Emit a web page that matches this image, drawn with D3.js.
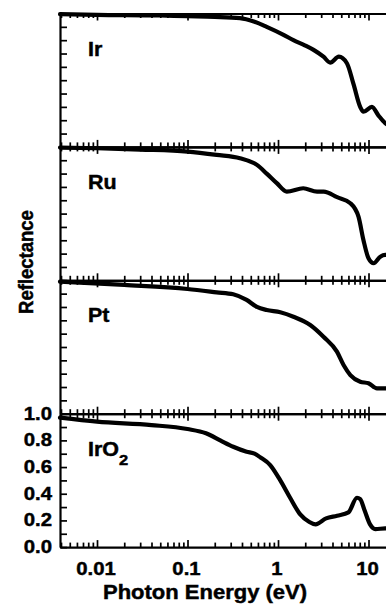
<!DOCTYPE html>
<html>
<head>
<meta charset="utf-8">
<script src="https://cdn.jsdelivr.net/npm/d3@7/dist/d3.min.js"></script>
<style>
  html, body { margin: 0; padding: 0; background: #fff; overflow: hidden; }
  svg { display: block; font-family: "Liberation Sans", Arial, Helvetica, sans-serif; font-weight: bold; }
  svg text { stroke: #000; stroke-width: 0.45px; }
</style>
</head>
<body>
<svg id="chart" width="386" height="604"></svg>
<script>
// Photon energy ticks (eV) and labels
const energyTicks = [0.01, 0.1, 1, 10];
const energyTickLabels = ["0.01", "0.1", "1", "10"];

// Reflectance ticks on the labelled (bottom) panel
const reflectanceTicks = [0, 0.2, 0.4, 0.6, 0.8, 1.0];
const reflectanceTickLabels = ["0.0", "0.2", "0.4", "0.6", "0.8", "1.0"];
const reflectanceMinorTicks = [0, 0.1, 0.2, 0.3, 0.4, 0.5, 0.6, 0.7, 0.8, 0.9, 1.0];

// Panels, top to bottom
const materials = ["Ir", "Ru", "Pt", "IrO2"];

// Reflectance spectra: [photon energy (eV), reflectance]
const irSpectrum = [
  [0.0039, 0.995], [0.01, 0.99], [0.05, 0.985], [0.1, 0.98], [0.2, 0.975],
  [0.38, 0.965], [0.54, 0.94], [0.75, 0.90], [1.15, 0.84], [1.48, 0.80],
  [2.0, 0.76], [2.47, 0.727], [3.18, 0.676], [3.77, 0.632], [4.7, 0.676],
  [5.77, 0.627], [6.83, 0.47], [8.09, 0.30], [8.8, 0.264], [10.9, 0.30],
  [12.9, 0.235], [15.3, 0.178], [18, 0.15]
];
const ruSpectrum = [
  [0.0039, 0.995], [0.01, 0.99], [0.03, 0.98], [0.1, 0.965], [0.21, 0.94],
  [0.38, 0.915], [0.585, 0.865], [0.75, 0.80], [0.97, 0.728], [1.25, 0.665],
  [1.9, 0.69], [2.7, 0.665], [3.2, 0.665], [4.5, 0.623], [6.3, 0.578],
  [7.75, 0.477], [8.8, 0.30], [10, 0.165], [11.4, 0.128], [13.5, 0.177],
  [15.3, 0.19], [18, 0.19]
];
const ptSpectrum = [
  [0.0039, 0.99], [0.02, 0.965], [0.1, 0.935], [0.21, 0.91], [0.32, 0.895],
  [0.45, 0.853], [0.585, 0.80], [0.75, 0.777], [1.06, 0.76], [1.48, 0.727],
  [2.27, 0.665], [3.18, 0.577], [4.48, 0.465], [5.3, 0.365], [6.3, 0.29],
  [8.1, 0.24], [10, 0.228], [12.4, 0.19], [15.3, 0.19], [18, 0.19]
];
const iro2Spectrum = [
  [0.0039, 0.97], [0.01, 0.94], [0.04, 0.915], [0.1, 0.885], [0.16, 0.853],
  [0.23, 0.80], [0.32, 0.752], [0.45, 0.715], [0.55, 0.70], [0.64, 0.672],
  [0.82, 0.615], [1.06, 0.50], [1.36, 0.37], [1.76, 0.245], [2.2, 0.19],
  [2.6, 0.17], [3.4, 0.215], [4.5, 0.235], [6.0, 0.26], [7.45, 0.37],
  [8.1, 0.36], [9.0, 0.28], [10.4, 0.17], [11.9, 0.135], [15.3, 0.14], [18, 0.14]
];
const spectra = [irSpectrum, ruSpectrum, ptSpectrum, iro2Spectrum];

// Layout
const plotLeft = 60;
const plotTop = 13.5;
const panelHeight = 133.4;
const decadeWidth = 90.5;
const energyDomain = [0.0039, 30];
const stretch = 1.1; // lettering is drawn slightly wide

const svg = d3.select("#chart");

const x = d3.scaleLog()
  .domain(energyDomain)
  .range([plotLeft, plotLeft + decadeWidth * Math.log10(energyDomain[1] / energyDomain[0])]);

// Minor ticks: 2..9 within every decade inside the domain
const minorEnergyTicks = [];
for (let p = -3; p <= 1; p++) {
  for (let m = 2; m <= 9; m++) {
    const v = m * Math.pow(10, p);
    if (v > energyDomain[0] && v < energyDomain[1]) minorEnergyTicks.push(v);
  }
}

function styleAxis(g, width) {
  g.select(".domain").attr("stroke", "#000").attr("stroke-width", width);
  g.selectAll(".tick line").attr("stroke", "#000").attr("stroke-width", 1.7);
  g.selectAll(".tick text").remove();
}

function boldText(parent, txt, px, py, size, anchor) {
  return parent.append("text")
    .attr("transform", `translate(${px},${py}) scale(${stretch},1)`)
    .attr("text-anchor", anchor || "start")
    .attr("font-size", size)
    .attr("fill", "#000")
    .text(txt);
}

materials.forEach((name, i) => {
  const top = plotTop + i * panelHeight;
  const bottom = top + panelHeight;
  const y = d3.scaleLinear().domain([0, 1]).range([bottom, top]);
  const g = svg.append("g").attr("class", "panel-" + i);

  // Bottom axis: ticks point up into the panel
  const gb = g.append("g").attr("transform", `translate(0,${bottom})`);
  gb.call(d3.axisBottom(x).tickValues(energyTicks).tickSizeInner(-7).tickSizeOuter(0));
  styleAxis(gb, 2.2);
  const gbm = g.append("g").attr("transform", `translate(0,${bottom})`);
  gbm.call(d3.axisBottom(x).tickValues(minorEnergyTicks).tickSizeInner(-4.5).tickSizeOuter(0));
  styleAxis(gbm, 0);

  // Top axis: ticks point down into the panel
  const gt = g.append("g").attr("transform", `translate(0,${top})`);
  gt.call(d3.axisTop(x).tickValues(energyTicks).tickSizeInner(-7).tickSizeOuter(0));
  styleAxis(gt, 2.2);
  const gtm = g.append("g").attr("transform", `translate(0,${top})`);
  gtm.call(d3.axisTop(x).tickValues(minorEnergyTicks).tickSizeInner(-4.5).tickSizeOuter(0));
  styleAxis(gtm, 0);

  // Left axis: ticks point right into the panel
  const gl = g.append("g").attr("transform", `translate(${plotLeft},0)`);
  gl.call(d3.axisLeft(y).tickValues(reflectanceMinorTicks).tickSizeInner(-7).tickSizeOuter(0));
  styleAxis(gl, 2.2);

  // Spectrum
  const line = d3.line()
    .x(d => x(d[0]))
    .y(d => y(d[1]))
    .curve(d3.curveMonotoneX);
  g.append("path")
    .datum(spectra[i])
    .attr("d", line)
    .attr("fill", "none")
    .attr("stroke", "#000")
    .attr("stroke-width", 4.2)
    .attr("stroke-linejoin", "round")
    .attr("stroke-linecap", "round");

  // Panel label
  if (name === "IrO2") {
    const t = boldText(g, "IrO", 88, top + 42, 19.5, "start");
    t.append("tspan").attr("font-size", 15).attr("dy", 9).text("2");
  } else {
    boldText(g, name, 88, top + 42, 19.5, "start");
  }

  // Reflectance labels on the bottom panel only
  if (i === materials.length - 1) {
    reflectanceTicks.forEach((v, k) => {
      boldText(g, reflectanceTickLabels[k], 52, y(v) + 6, 18.5, "end");
    });
    energyTicks.forEach((v, k) => {
      boldText(g, energyTickLabels[k], x(v) - 1, 575, 18.5, "middle");
    });
  }
});

// Axis titles
boldText(svg, "Photon Energy (eV)", 205, 599, 20, "middle");
svg.append("text")
  .attr("transform", `translate(33.3,262) scale(${stretch},1) rotate(-90)`)
  .attr("text-anchor", "middle")
  .attr("font-size", 18.5)
  .attr("fill", "#000")
  .text("Reflectance");
</script>
</body>
</html>
